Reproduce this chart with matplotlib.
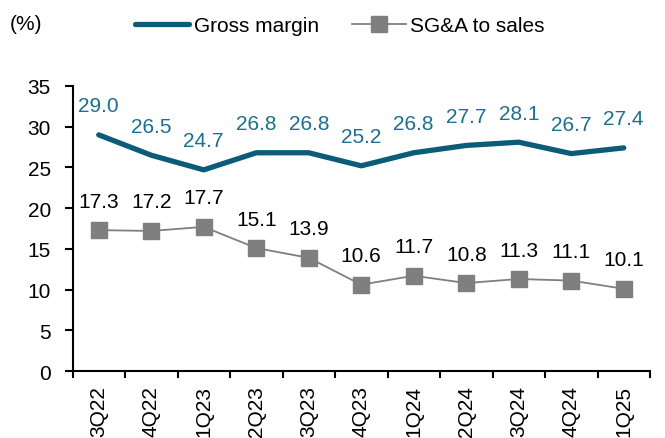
import matplotlib
matplotlib.use("Agg")
import matplotlib.pyplot as plt
import numpy as np

quarters = ["3Q22", "4Q22", "1Q23", "2Q23", "3Q23", "4Q23", "1Q24", "2Q24", "3Q24", "4Q24", "1Q25"]
gross_margin = [29.0, 26.5, 24.7, 26.8, 26.8, 25.2, 26.8, 27.7, 28.1, 26.7, 27.4]
sga_to_sales = [17.3, 17.2, 17.7, 15.1, 13.9, 10.6, 11.7, 10.8, 11.3, 11.1, 10.1]

plt.rcParams['font.family'] = ['Liberation Sans', 'DejaVu Sans']
teal = "#0B5C78"
teal_text = "#1C6F8E"
gray = "#7F7F7F"
fs = 15

fig = plt.figure(figsize=(6.65, 4.39), dpi=100)
ax = fig.add_axes([72.5/665, 1-372/439, (650-72.5)/665, (372-87)/439])

x = np.arange(len(quarters))
ax.plot(x, gross_margin, color=teal, lw=3.8, solid_capstyle='round', label="Gross margin")
ax.plot(x, sga_to_sales, color=gray, lw=1.3, marker='s', markersize=11, label="SG&A to sales")

for xi, v in zip(x, gross_margin):
    ax.annotate(f"{v:.1f}", (xi, v), xytext=(0, 14), textcoords='offset points',
                ha='center', va='bottom', color=teal_text, fontsize=fs)
for xi, v in zip(x, sga_to_sales):
    ax.annotate(f"{v:.1f}", (xi, v), xytext=(0, 14), textcoords='offset points',
                ha='center', va='bottom', color='black', fontsize=fs)

ax.set_xlim(-0.5, len(quarters) - 0.5)
ax.set_ylim(0, 35)
ax.set_yticks(range(0, 36, 5))
ax.set_xticks(x)
ax.set_xticklabels(quarters, rotation=90, fontsize=fs)
ax.set_xticks(np.arange(-0.5, len(quarters), 1), minor=True)
ax.tick_params(axis='x', which='major', length=0, pad=10)
ax.tick_params(axis='x', which='minor', length=5, width=1.5, direction='out')
ax.tick_params(axis='y', length=5.5, width=1.5, labelsize=fs, pad=10)
for s in ['top', 'right']:
    ax.spines[s].set_visible(False)
for s in ['left', 'bottom']:
    ax.spines[s].set_linewidth(1.5)

fig.text(10/665, 1-25/439, "(%)", fontsize=fs, va='center', ha='left')
leg = fig.legend(loc='center', bbox_to_anchor=(340/665, 1-27/439), ncol=2, frameon=False,
                 fontsize=fs, handlelength=2.6, handletextpad=0.2, columnspacing=1.6)

fig.savefig("out.png", dpi=100)
